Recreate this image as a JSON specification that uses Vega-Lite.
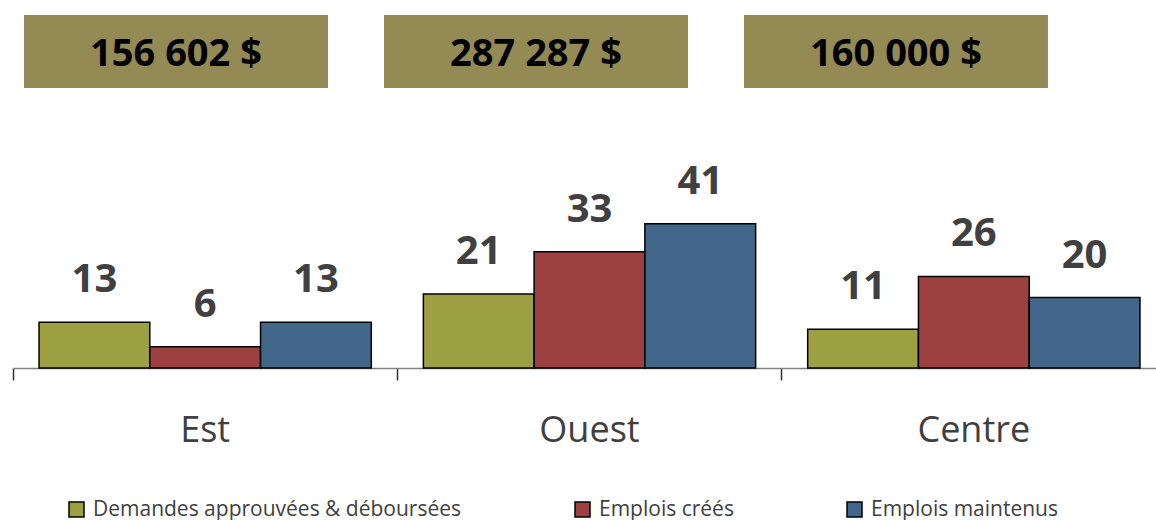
{
  "$schema": "https://vega.github.io/schema/vega-lite/v6.json",
  "padding": {"left": 12, "top": 15, "right": 0, "bottom": 0},
  "config": {"view": {"stroke": null}, "font": "Open Sans"},
  "datasets": {
    "boxes": [
      {"region": "Est", "montant": "156 602 $"},
      {"region": "Ouest", "montant": "287 287 $"},
      {"region": "Centre", "montant": "160 000 $"}
    ],
    "bars": [
      {"region": "Est", "series": "Demandes approuvées & déboursées", "value": 13},
      {"region": "Est", "series": "Emplois créés", "value": 6},
      {"region": "Est", "series": "Emplois maintenus", "value": 13},
      {"region": "Ouest", "series": "Demandes approuvées & déboursées", "value": 21},
      {"region": "Ouest", "series": "Emplois créés", "value": 33},
      {"region": "Ouest", "series": "Emplois maintenus", "value": 41},
      {"region": "Centre", "series": "Demandes approuvées & déboursées", "value": 11},
      {"region": "Centre", "series": "Emplois créés", "value": 26},
      {"region": "Centre", "series": "Emplois maintenus", "value": 20}
    ]
  },
  "spacing": 30,
  "vconcat": [
    {
      "width": 1046,
      "height": 73,
      "data": {"name": "boxes"},
      "encoding": {
        "x": {"field": "region", "type": "nominal", "sort": ["Est", "Ouest", "Centre"],
              "scale": {"paddingInner": 0.1556, "paddingOuter": 0.0306}, "axis": null}
      },
      "layer": [
        {"mark": {"type": "rect", "color": "#948A54"}},
        {"mark": {"type": "text", "fontSize": 38, "fontWeight": "bold", "color": "#000000", "baseline": "middle", "dy": 3},
         "encoding": {"text": {"field": "montant"}}}
      ]
    },
    {
      "width": 1153,
      "height": 250,
      "data": {"name": "bars"},
      "encoding": {
        "x": {"field": "region", "type": "nominal", "sort": ["Est", "Ouest", "Centre"],
              "scale": {"paddingInner": 0, "paddingOuter": 0},
              "axis": {"title": null, "bandPosition": 0, "labelAngle": 0, "labelFontSize": 36,
                       "labelColor": "#404040", "labelPadding": 33, "tickSize": 12,
                       "tickColor": "#303030", "tickWidth": 1.5, "domainColor": "#808080", "domainWidth": 1.5}},
        "xOffset": {"field": "series", "type": "nominal",
                    "sort": ["Demandes approuvées & déboursées", "Emplois créés", "Emplois maintenus"],
                    "scale": {"paddingInner": 0, "paddingOuter": 0.235}},
        "y": {"field": "value", "type": "quantitative", "scale": {"domain": [0, 71]}, "axis": null}
      },
      "layer": [
        {"mark": {"type": "bar", "stroke": "#000000", "strokeWidth": 1.5},
         "encoding": {
           "color": {"field": "series", "type": "nominal",
                     "sort": ["Demandes approuvées & déboursées", "Emplois créés", "Emplois maintenus"],
                     "scale": {"domain": ["Demandes approuvées & déboursées", "Emplois créés", "Emplois maintenus"],
                               "range": ["#9DA040", "#9C4042", "#416689"]},
                     "legend": {"title": null, "orient": "none", "legendX": 53, "legendY": 484,
                                "direction": "horizontal", "padding": 0,
                                "symbolType": "square", "symbolSize": 225, "symbolStrokeColor": "#000000",
                                "symbolStrokeWidth": 1.5, "labelFontSize": 21, "labelColor": "#404040",
                                "labelLimit": 0, "columnPadding": 110, "labelOffset": 6}}
         }},
        {"mark": {"type": "text", "fontSize": 40, "fontWeight": "bold", "color": "#404040",
                  "baseline": "alphabetic", "dy": -30},
         "encoding": {"text": {"field": "value", "type": "quantitative"}}}
      ]
    }
  ]
}
